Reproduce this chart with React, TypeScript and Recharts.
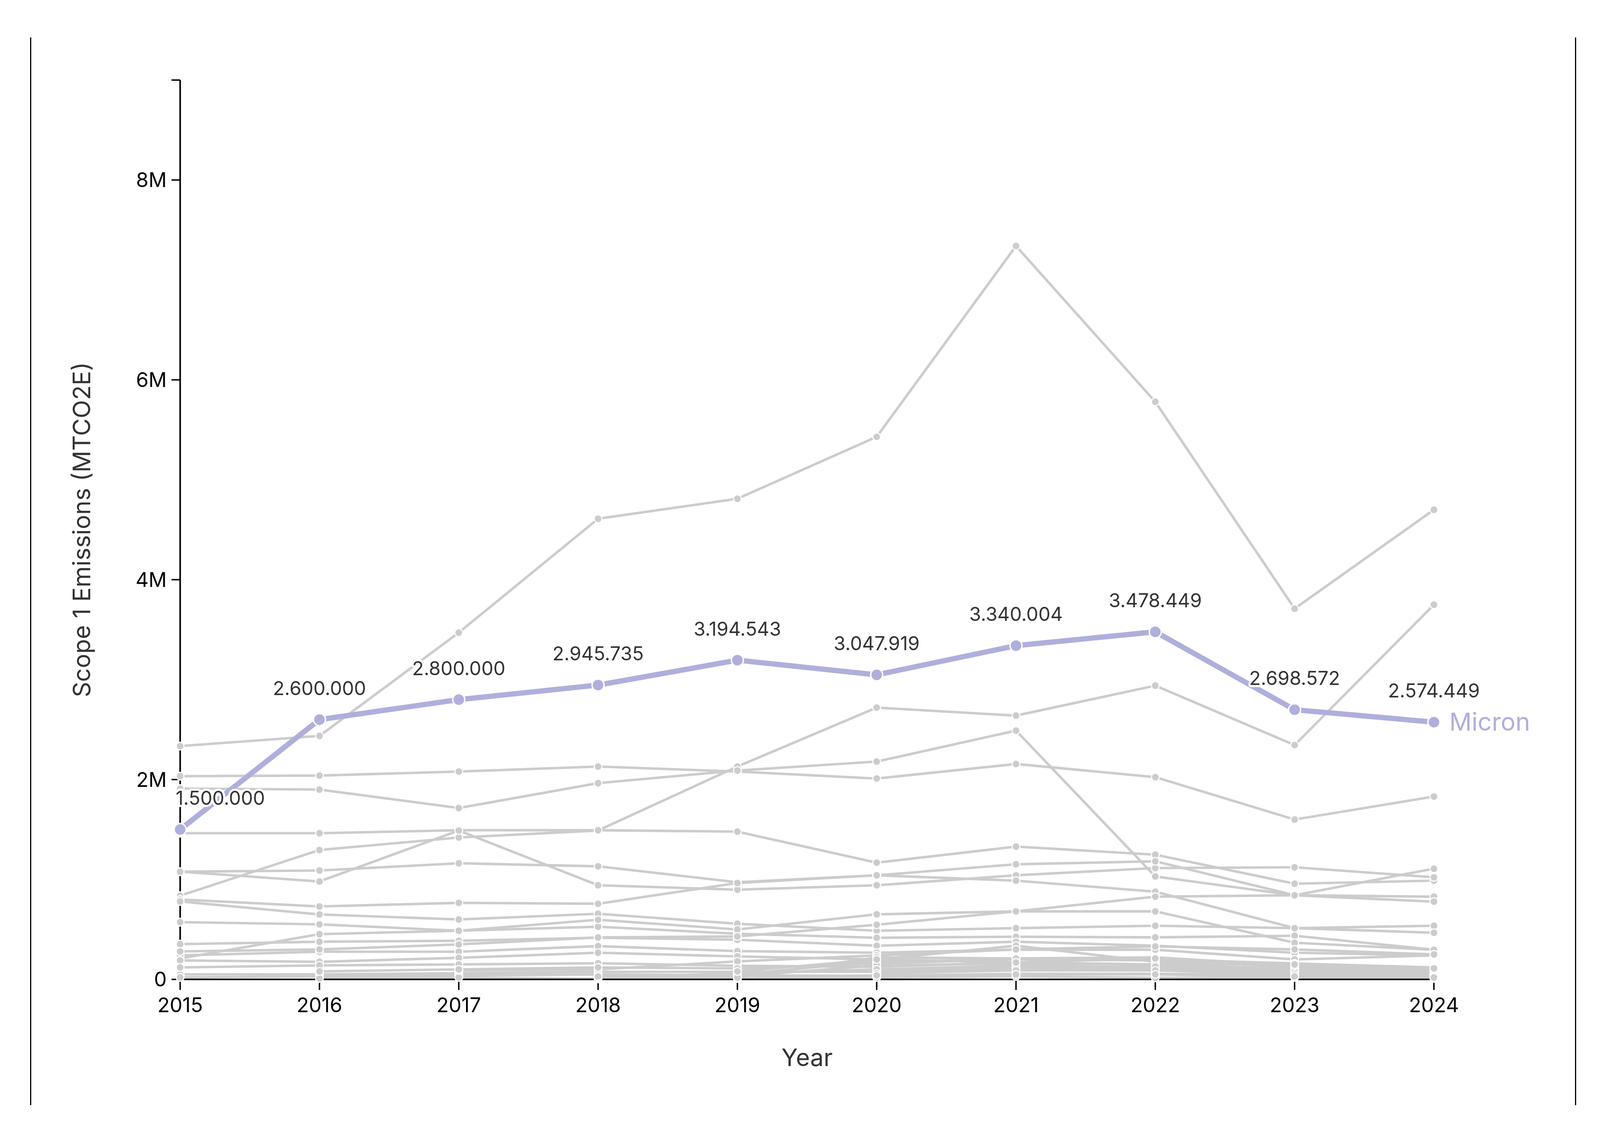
import React from 'react';
import { LineChart, Line, XAxis, YAxis, LabelList, Label } from 'recharts';

const years = [2015, 2016, 2017, 2018, 2019, 2020, 2021, 2022, 2023, 2024];

const micron = [1500000, 2600000, 2800000, 2945735, 3194543, 3047919, 3340004, 3478449, 2698572, 2574449];

const peerA = [2335000, 2437000, 3470000, 4610000, 4810000, 5430000, 7340000, 5780000, 3710000, 4700000];
const peerB = [838000, 1295000, 1420000, 1490000, 2130000, 2720000, 2640000, 2940000, 2345000, 3750000];
const peerC = [2034000, 2040000, 2080000, 2130000, 2080000, 2010000, 2156000, 2024000, 1600000, 1830000];
const peerD = [1910000, 1900000, 1715000, 1964000, 2090000, 2180000, 2490000, 1030000, 842000, 828000];
const peerE = [1463000, 1463000, 1493000, 1493000, 1479000, 1168000, 1329000, 1248000, 958000, 988000];
const peerF = [1078000, 980000, 1490000, 942000, 898000, 942000, 1042000, 1114000, 1122000, 1022000];
const peerG = [1078000, 1090000, 1162000, 1132000, 972000, 1042000, 1152000, 1182000, 842000, 1108000];
const peerH = [800000, 730000, 766000, 757000, 965000, 1042000, 988000, 878000, 513000, 537000];
const peerI = [780000, 650000, 600000, 657000, 557000, 487000, 513000, 537000, 513000, 467000];
const peerJ = [573000, 551000, 487000, 527000, 457000, 417000, 427000, 421000, 437000, 297000];
const peerK = [353000, 377000, 387000, 417000, 397000, 337000, 377000, 337000, 267000, 240000];
const peerL = [210000, 453000, 487000, 597000, 500000, 651000, 681000, 681000, 367000, 297000];
const peerM = [240000, 277000, 277000, 333000, 283000, 267000, 297000, 297000, 200000, 240000];
const peerN = [190000, 176000, 216000, 267000, 230000, 200000, 337000, 176000, 86000, 86000];
const peerO = [50000, 50000, 62000, 76000, 76000, 76000, 116000, 106000, 86000, 36000];
const peerP = [280000, 300000, 350000, 420000, 430000, 547000, 681000, 828000, 842000, 778000];
const peerQ = [20000, 30000, 40000, 50000, 40000, 36000, 56000, 56000, 46000, 30000];
const peerS = [120000, 140000, 150000, 162000, 136000, 126000, 170000, 150000, 100000, 80000];
const peerT = [null, 10000, 20000, 6000, 10000, 20000, 30000, 16000, 20000, 10000];
const peerU = [null, null, 90000, 100000, 180000, 240000, 300000, 330000, 300000, 250000];
const peerV = [null, 80000, 100000, 120000, 110000, 160000, 200000, 200000, 160000, 120000];
const peerX = [null, null, null, 20000, 60000, 100000, 140000, 120000, 60000, 50000];
const peerY1 = [null, null, null, null, 50000, 180000, 200000, 190000, 120000, 100000];
const peerY2 = [null, null, null, null, 30000, 140000, 160000, 150000, 100000, 60000];
const peerY3 = [null, null, null, null, null, 100000, 120000, 130000, 80000, 50000];
const peerY4 = [null, null, null, null, null, 60000, 90000, 90000, 50000, 30000];
const peerY5 = [null, null, null, null, 10000, 40000, 50000, 50000, 30000, 20000];
const peerY6 = [null, null, null, 30000, 20000, 220000, 210000, 220000, 140000, 120000];
const peerY7 = [null, null, null, null, 80000, 200000, 170000, 210000, 150000, 110000];

const peers = [peerA, peerB, peerC, peerD, peerE, peerF, peerG, peerH, peerI, peerJ, peerK,
  peerL, peerM, peerN, peerO, peerP, peerQ, peerS, peerT, peerU, peerV, peerX,
  peerY1, peerY2, peerY3, peerY4, peerY5, peerY6, peerY7];

const yTicks = [0, 2000000, 4000000, 6000000, 8000000, 9000000];

const data = years.map((year, i) => {
  const row: Record<string, number | null> = { year, micron: micron[i] };
  peers.forEach((p, j) => {
    row['p' + j] = p[i];
  });
  return row;
});

const FONT = 'Inter, "Noto Sans", sans-serif';
const MICRON_COLOR = '#afafdc';
const GREY = '#cccccc';

const fmtDots = (v: number) => String(Math.round(v)).replace(/\B(?=(\d{3})+(?!\d))/g, '.');
const fmtTick = (v: number) => (v === 9000000 ? '' : v === 0 ? '0' : `${v / 1000000}M`);

const REF_W = 5000;
const REF_H = 2909;
const VW = typeof window !== 'undefined' && window.innerWidth ? window.innerWidth : REF_W;
const VH = typeof window !== 'undefined' && window.innerHeight ? window.innerHeight : REF_H;
const W = Math.min(REF_W, VW);
const H = Math.min(REF_H, VH);
const SX = W / REF_W;
const SY = H / REF_H;
const SF = Math.sqrt(SX * SY);

const ValueLabel = (props: any) => {
  const { x, y, value, index } = props;
  if (value == null) return null;
  const first = index === 0;
  return (
    <text
      x={first ? x - 14 * SX : x}
      y={y - 63 * SY}
      textAnchor={first ? 'start' : 'middle'}
      fontSize={54 * SF}
      fontFamily={FONT}
      fill="#333333"
      stroke="#ffffff"
      strokeWidth={12 * SF}
      strokeLinejoin="round"
      paintOrder="stroke"
    >
      {fmtDots(value)}
    </text>
  );
};

const NameLabel = (props: any) => {
  const { x, y, index } = props;
  if (index !== years.length - 1) return null;
  return (
    <text x={x + 48 * SX} y={y} dy="0.35em" fontSize={70 * SF} fontFamily={FONT} fill={MICRON_COLOR}>
      Micron
    </text>
  );
};

export default function App() {
  return (
    <div style={{ position: 'absolute', left: 0, top: 0, width: W, height: H, background: '#fff', overflow: 'hidden' }}>
      <div
        style={{
          position: 'absolute',
          left: 94 * SX,
          top: 96 * SY,
          width: 4831 * SX,
          height: 2734 * SY,
          borderLeft: `${4 * SF}px solid #000`,
          borderRight: `${4 * SF}px solid #000`,
          boxSizing: 'border-box',
          pointerEvents: 'none',
        }}
      />
      <div style={{ position: 'absolute', left: 0, top: 0 }}>
        <LineChart
          width={W}
          height={H}
          data={data}
          margin={{ top: 205 * SY, right: 519 * SX, bottom: 101 * SY, left: 0 }}
        >
          <XAxis
            dataKey="year"
            type="number"
            domain={[2015, 2024]}
            ticks={years}
            interval={0}
            height={300 * SY}
            tickSize={27 * SY}
            tickMargin={20 * SY}
            axisLine={{ stroke: '#000', strokeWidth: 4.5 * SF }}
            tickLine={{ stroke: '#000', strokeWidth: 4 * SF }}
            tick={{ fontSize: 57 * SF, fill: '#000', fontFamily: FONT }}
          >
            <Label
              content={(p: any) => {
                const vb = p.viewBox || { x: 563 * SX, y: 2508 * SY, width: 3918 * SX };
                return (
                  <text
                    x={vb.x + vb.width / 2}
                    y={vb.y + 200 * SY}
                    dy="0.35em"
                    textAnchor="middle"
                    fontSize={68 * SF}
                    fontFamily={FONT}
                    fill="#333333"
                  >
                    Year
                  </text>
                );
              }}
            />
          </XAxis>
          <YAxis
            type="number"
            domain={[0, 9000000]}
            ticks={yTicks}
            interval={0}
            width={563 * SX}
            tickSize={27 * SX}
            tickMargin={15 * SX}
            tickFormatter={fmtTick}
            axisLine={{ stroke: '#000', strokeWidth: 4.5 * SF }}
            tickLine={{ stroke: '#000', strokeWidth: 4 * SF }}
            tick={{ fontSize: 57 * SF, fill: '#000', fontFamily: FONT }}
          >
            <Label
              content={(p: any) => {
                const vb = p.viewBox || { x: 0, y: 205 * SY, height: 2303 * SY };
                const cx = vb.x + 256 * SX;
                const cy = vb.y + vb.height / 2;
                return (
                  <text
                    x={cx}
                    y={cy}
                    dy="0.35em"
                    textAnchor="middle"
                    transform={`rotate(-90, ${cx}, ${cy})`}
                    fontSize={68 * SF}
                    fontFamily={FONT}
                    fill="#333333"
                  >
                    Scope 1 Emissions (MTCO2E)
                  </text>
                );
              }}
            />
          </YAxis>
          {peers.map((_, j) => (
            <Line
              key={'p' + j}
              dataKey={'p' + j}
              type="linear"
              stroke={GREY}
              strokeWidth={7 * SF}
              dot={{ r: 11 * SF, fill: GREY, stroke: '#ffffff', strokeWidth: 3 * SF }}
              activeDot={false}
              isAnimationActive={false}
              connectNulls={false}
            />
          ))}
          <Line
            dataKey="micron"
            type="linear"
            stroke={MICRON_COLOR}
            strokeWidth={15 * SF}
            dot={{ r: 17 * SF, fill: MICRON_COLOR, stroke: '#ffffff', strokeWidth: 4 * SF }}
            activeDot={false}
            isAnimationActive={false}
          >
            <LabelList dataKey="micron" content={ValueLabel} />
            <LabelList dataKey="micron" content={NameLabel} />
          </Line>
        </LineChart>
      </div>
    </div>
  );
}
